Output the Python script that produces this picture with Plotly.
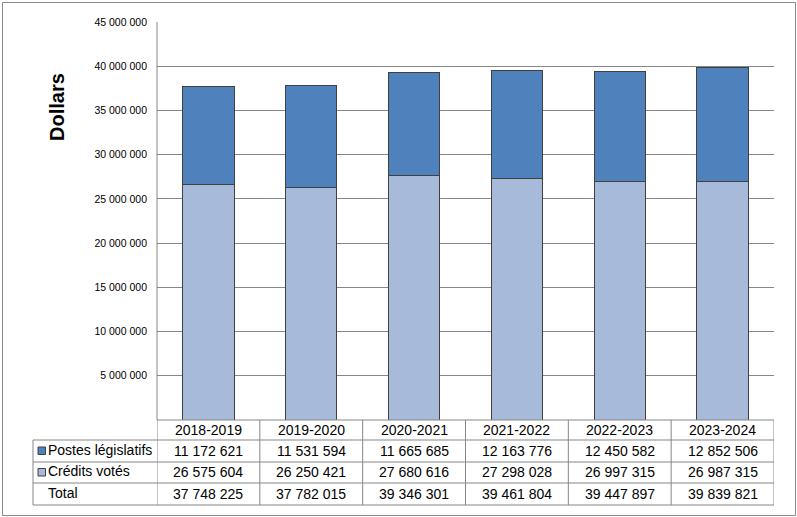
import plotly.graph_objects as go

# ---- data ----
years = ["2018-2019", "2019-2020", "2020-2021", "2021-2022", "2022-2023", "2023-2024"]
postes_legislatifs = [11172621, 11531594, 11665685, 12163776, 12450582, 12852506]
credits_votes = [26575604, 26250421, 27680616, 27298028, 26997315, 26987315]
totals = [37748225, 37782015, 39346301, 39461804, 39447897, 39839821]
series_names = ["Postes législatifs", "Crédits votés", "Total"]
tick_values = [5e6, 10e6, 15e6, 20e6, 25e6, 30e6, 35e6, 40e6, 45e6]
tick_labels = ["5 000 000", "10 000 000", "15 000 000", "20 000 000", "25 000 000",
               "30 000 000", "35 000 000", "40 000 000", "45 000 000"]

DARK = "#4F81BD"
LIGHT = "#A8BADA"
GRID = "#878787"
FONT = "Arial, Liberation Sans, sans-serif"

W, H = 797, 517
L, R, T, B = 157, 774, 22, 420
PW, PH = R - L, B - T


def px(x):
    return (x - L) / PW


def py(y):
    return (B - y) / PH


def fmt(v):
    return f"{v:,}".replace(",", " ")


fig = go.Figure()
fig.add_trace(go.Bar(x=years, y=credits_votes, name=series_names[1], marker=dict(color=LIGHT, line=dict(color="#404040", width=1)), width=0.5))
fig.add_trace(go.Bar(x=years, y=postes_legislatifs, name=series_names[0], marker=dict(color=DARK, line=dict(color="#404040", width=1)), width=0.5))

shapes = []
annotations = []

# outer border
shapes.append(dict(type="rect", xref="paper", yref="paper", x0=px(2.5), x1=px(795.5), y0=py(515.5), y1=py(2.5),
                   line=dict(color="#8a8a8a", width=1), fillcolor="rgba(0,0,0,0)", layer="below"))

# table geometry (pixel rows)
rows_y = [420, 440, 462, 483, 505]
first_col_x = 33
n = len(years)
# horizontal lines
shapes.append(dict(type="line", xref="paper", yref="paper", x0=0, x1=1, y0=py(rows_y[0]), y1=py(rows_y[0]), line=dict(color=GRID, width=1)))
for ry in rows_y[1:]:
    shapes.append(dict(type="line", xref="paper", yref="paper", x0=px(first_col_x), x1=1, y0=py(ry), y1=py(ry), line=dict(color=GRID, width=1)))
# vertical lines
shapes.append(dict(type="line", xref="paper", yref="paper", x0=px(first_col_x), x1=px(first_col_x), y0=py(rows_y[1]), y1=py(rows_y[-1]), line=dict(color=GRID, width=1)))
for i in range(n + 1):
    shapes.append(dict(type="line", xref="x", yref="paper", x0=i - 0.5, x1=i - 0.5, y0=py(rows_y[0]), y1=py(rows_y[-1]), line=dict(color=GRID, width=1)))
# plot-area left axis line
shapes.append(dict(type="line", xref="paper", yref="paper", x0=0, x1=0, y0=0, y1=1, line=dict(color=GRID, width=1)))

tfont = dict(family=FONT, size=14, color="#000000")


def row_center(i):
    return py((rows_y[i] + rows_y[i + 1]) / 2)


for j, yr in enumerate(years):
    annotations.append(dict(x=j, y=row_center(0), xref="x", yref="paper", text=yr, showarrow=False, font=tfont, xanchor="center", yanchor="middle"))
    annotations.append(dict(x=j, y=row_center(1), xref="x", yref="paper", text=fmt(postes_legislatifs[j]), showarrow=False, font=tfont, xanchor="center", yanchor="middle"))
    annotations.append(dict(x=j, y=row_center(2), xref="x", yref="paper", text=fmt(credits_votes[j]), showarrow=False, font=tfont, xanchor="center", yanchor="middle"))
    annotations.append(dict(x=j, y=row_center(3), xref="x", yref="paper", text=fmt(totals[j]), showarrow=False, font=tfont, xanchor="center", yanchor="middle"))

# row labels with keys
key_colors = [DARK, LIGHT, None]
for i, (name, kc) in enumerate(zip(series_names, key_colors)):
    cy = (rows_y[i + 1] + rows_y[i + 2]) / 2
    if kc:
        shapes.append(dict(type="rect", xref="paper", yref="paper", x0=px(38), x1=px(45.5), y0=py(cy + 3.5), y1=py(cy - 4),
                           fillcolor=kc, line=dict(color="#404040", width=1)))
    annotations.append(dict(x=px(46), y=py(cy - 1), xref="paper", yref="paper", text=name, showarrow=False,
                            font=tfont, xanchor="left", yanchor="middle"))

# axis title
annotations.append(dict(x=px(57), y=py(107), xref="paper", yref="paper", text="<b>Dollars</b>", textangle=-90,
                        showarrow=False, font=dict(family=FONT, size=20, color="#000000"), xanchor="center", yanchor="middle"))

fig.update_layout(
    width=W, height=H,
    margin=dict(l=L, r=W - R, t=T, b=H - B, pad=0),
    barmode="stack",
    showlegend=False,
    plot_bgcolor="white", paper_bgcolor="white",
    shapes=shapes, annotations=annotations,
    xaxis=dict(showticklabels=False, showgrid=False, zeroline=False, showline=False, ticks="", range=[-0.5, n - 0.5]),
    yaxis=dict(range=[0, 45e6], tickvals=tick_values, ticktext=tick_labels, showgrid=True, gridcolor=GRID, gridwidth=1,
               zeroline=False, showline=False, ticks="", ticklabelstandoff=9,
               tickfont=dict(family=FONT, size=10.5, color="#000000")),
    bargap=0.5,
)

fig.write_html("out.html")
